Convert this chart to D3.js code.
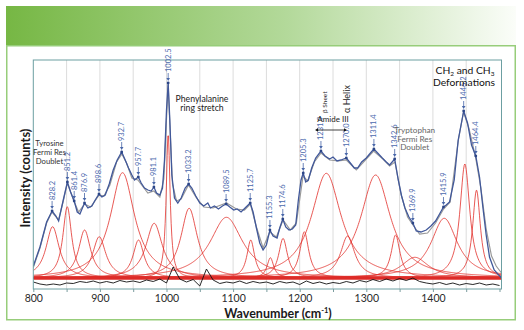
<!DOCTYPE html>
<html>
<head>
<meta charset="utf-8">
<script src="https://cdn.jsdelivr.net/npm/d3@7"></script>
<style>
  body { margin: 0; background: #fff; }
  svg text { font-family: Lato, "Open Sans", sans-serif; }
</style>
</head>
<body>
<svg id="raman_svg" width="524" height="330"></svg>
<script>
// Measured spectrum (wavenumber, intensity)
var measuredWn = [800, 810, 820, 828.2, 834, 838, 845, 851.2, 856, 861.4, 866, 870, 876.9, 882, 888, 893, 898.6,
  903, 908, 914, 920, 926, 932.7, 938, 943, 948, 952, 957.7, 962, 967, 972, 977, 981.1, 985, 990, 994, 997,
  1000, 1002.5, 1005, 1008, 1012, 1017, 1022, 1028, 1033.2, 1038, 1044, 1050, 1056, 1062, 1066, 1072, 1078,
  1084, 1089.5, 1095, 1101, 1106, 1112, 1118, 1125.7, 1130, 1135, 1140, 1145, 1150, 1155.3, 1160, 1166, 1170,
  1174.6, 1179, 1184, 1189, 1194, 1198, 1202, 1205.3, 1209, 1213, 1218, 1224, 1231.9, 1238, 1245, 1250, 1256,
  1262, 1270, 1276, 1282, 1287, 1293, 1300, 1305, 1311.4, 1317, 1324, 1330, 1335, 1342.6, 1348, 1353, 1358,
  1364, 1369.9, 1375, 1382, 1390, 1397, 1404, 1410, 1415.9, 1420, 1425, 1432, 1438, 1446.2, 1452, 1458,
  1464.4, 1470, 1475, 1480, 1485, 1492, 1503];
var measuredInt = [230, 420, 670, 780, 730, 680, 890, 1070, 970, 880, 770, 750, 860, 810, 830, 890, 950,
  920, 940, 1050, 1190, 1290, 1370, 1290, 1210, 1140, 1090, 1120, 1060, 1010, 990, 980, 1020, 960, 940, 1010, 1290,
  1790, 2060, 1690, 1140, 910, 860, 910, 1010, 1050, 1010, 930, 860, 830, 860, 810, 830, 800,
  830, 850, 820, 790, 800, 770, 810, 860, 770, 610, 460, 390, 440, 590, 530, 510, 610,
  700, 620, 590, 600, 640, 890, 1090, 1160, 1070, 1090, 1210, 1310, 1380, 1330, 1300, 1320, 1280,
  1290, 1310, 1260, 1210, 1210, 1270, 1310, 1350, 1400, 1360, 1310, 1270, 1240, 1300, 1090, 930, 810,
  720, 660, 580, 570, 590, 630, 680, 750, 820, 840, 870, 1090, 1490, 1780, 1660, 1440,
  1330, 1120, 820, 540, 320, 190, 110];

// Summed fit
var fitWn = [800, 810, 820, 828, 838, 845, 851, 861, 868, 877, 886, 899, 906, 915, 925, 933, 940, 948, 957,
  965, 972, 981, 990, 996, 1000, 1002.5, 1005, 1009, 1015, 1022, 1033, 1045, 1056, 1070, 1090, 1105, 1117,
  1126, 1135, 1145, 1155, 1165, 1175, 1186, 1195, 1205, 1212, 1222, 1232, 1245, 1258, 1270, 1285, 1300,
  1311, 1325, 1335, 1343, 1352, 1362, 1370, 1380, 1392, 1404, 1416, 1426, 1438, 1446, 1454, 1464, 1472,
  1480, 1488, 1495, 1503];
var fitInt = [215, 410, 660, 770, 690, 880, 1060, 880, 770, 850, 820, 940, 930, 1040, 1270, 1350, 1260, 1110, 1090,
  1020, 960, 980, 920, 1100, 1700, 2040, 1650, 1050, 880, 900, 1040, 910, 820, 810, 860, 800, 790,
  850, 620, 410, 570, 520, 690, 590, 660, 1130, 1080, 1270, 1360, 1290, 1280, 1290, 1190, 1300,
  1380, 1300, 1230, 1270, 950, 720, 640, 550, 560, 660, 800, 870, 1480, 1770, 1610, 1320, 1010,
  600, 330, 230, 160];

// Fit residual, every 10 cm-1 from 800
var residualStart = 800;
var residual = [70, 50, 40, 50, 40, 60, 55, 75, 65, 80, 60, 75, 60, 85, 70, 80, 65, 90, 75, 100,
  60, 220, 100, 70, 95, 30, 200, 90, 55, 70, 60, 80, 55, 75, 60, 70, 50, 75, 60, 70,
  45, 80, 55, 70, 50, 65, 55, 75, 60, 85, 70, 95, 75, 100, 80, 105, 85, 110, 75, 60,
  50, 65, 45, 60, 40, 55, 45, 60, 40, 50, 35];

// Lorentzian components: centre, height, half width
var bandCenter = [829, 851, 877, 899, 934, 958, 981.5, 1002.5, 1034, 1090, 1126.5, 1156, 1175, 1207, 1240,
  1272, 1314, 1344, 1373, 1417, 1448, 1465.5];
var bandHeight = [513, 713, 480, 413, 1053, 380, 547, 1450, 697, 607, 380, 203, 397, 463, 1047,
  420, 1030, 430, 207, 597, 1140, 880];
var bandWidth = [12, 8, 11, 12, 22, 10, 15, 3.5, 15, 30, 7, 6, 8, 8, 27,
  13, 27, 8, 25, 24, 9, 7];
var bandBase = 110;

var peakLabels = ["828.2", "851.2", "861.4", "876.9", "898.6", "932.7", "957.7", "981.1", "1002.5", "1033.2",
  "1089.5", "1125.7", "1155.3", "1174.6", "1205.3", "1231.9", "1270.0", "1311.4", "1342.6", "1369.9",
  "1415.9", "1446.2", "1464.4"];

var xTicks = [800, 850, 900, 950, 1000, 1050, 1100, 1150, 1200, 1250, 1300, 1350, 1400, 1450, 1500];

var svg = d3.select("#raman_svg");
var x = d3.scaleLinear().domain([800, 1503]).range([33.3, 501.5]);
var y = d3.scaleLinear().domain([0, 2290]).range([289, 60]);

// header band and panel
var defs = svg.append("defs");
var grad = defs.append("linearGradient").attr("id", "band_grad");
grad.append("stop").attr("offset", "0%").attr("stop-color", "#76b744");
grad.append("stop").attr("offset", "55%").attr("stop-color", "#b3d99a");
grad.append("stop").attr("offset", "100%").attr("stop-color", "#fbfdf9");
svg.append("rect").attr("x", 6).attr("y", 6).attr("width", 510).attr("height", 40)
  .attr("fill", "url(#band_grad)");
svg.append("rect").attr("x", 6.75).attr("y", 45.75).attr("width", 508.5).attr("height", 274)
  .attr("fill", "#fff").attr("stroke", "#97cd7a").attr("stroke-width", 1.5);

defs.append("clipPath").attr("id", "plot_clip").append("rect")
  .attr("x", x.range()[0]).attr("y", y.range()[1])
  .attr("width", x.range()[1] - x.range()[0]).attr("height", y.range()[0] - y.range()[1]);

// grid
svg.append("g").selectAll("line").data(xTicks.filter(function (d) { return d > 800 && d < 1500; }))
  .enter().append("line")
  .attr("x1", function (d) { return x(d); }).attr("x2", function (d) { return x(d); })
  .attr("y1", y.range()[1]).attr("y2", y.range()[0])
  .attr("stroke", "#dcdcdc").attr("stroke-width", 1);

var plot = svg.append("g").attr("clip-path", "url(#plot_clip)");
var line = d3.line().x(function (d) { return x(d[0]); }).y(function (d) { return y(d[1]); });

// fitted components
var grid = d3.range(800, 1504, 1);
bandCenter.forEach(function (c, i) {
  var g = bandWidth[i], h = bandHeight[i];
  var pts = grid.map(function (w) {
    return [w, bandBase + h * g * g / ((w - c) * (w - c) + g * g)];
  });
  plot.append("path").attr("d", line(pts)).attr("fill", "none")
    .attr("stroke", "#e2312d").attr("stroke-width", 0.9).attr("stroke-opacity", 0.9);
});
plot.append("path").attr("d", line([[800, bandBase], [1503, bandBase]]))
  .attr("stroke", "#dd2b27").attr("stroke-width", 3.6).attr("fill", "none");

// residual
var residualPts = residual.map(function (v, i) { return [residualStart + 10 * i, v]; });
plot.append("path").attr("d", line(residualPts)).attr("fill", "none")
  .attr("stroke", "#111").attr("stroke-width", 0.9);

// fit sum and measured spectrum
plot.append("path").attr("d", line(fitWn.map(function (w, i) { return [w, fitInt[i]]; })))
  .attr("fill", "none").attr("stroke", "#9a9a9a").attr("stroke-width", 1.2);
var measured = measuredWn.map(function (w, i) { return [w, measuredInt[i]]; });
plot.append("path").attr("d", line(measured))
  .attr("fill", "none").attr("stroke", "#41589a").attr("stroke-width", 1.3);

// frame and x axis
svg.append("rect").attr("x", x.range()[0]).attr("y", y.range()[1])
  .attr("width", x.range()[1] - x.range()[0]).attr("height", y.range()[0] - y.range()[1])
  .attr("fill", "none").attr("stroke", "#6c9fa2").attr("stroke-width", 1);

var xAxis = svg.append("g").attr("transform", "translate(0," + y.range()[0] + ")")
  .call(d3.axisBottom(x).tickValues(xTicks).tickSize(3).tickPadding(3)
    .tickFormat(function (d) { return (d % 100 === 0 && d < 1500) ? d : ""; }));
xAxis.select(".domain").remove();
xAxis.selectAll("line").attr("stroke", "#7a9c9e");
xAxis.selectAll("text").attr("font-size", "10.5px").attr("fill", "#2a2a2a")
  .style("font-family", "Lato, sans-serif");

var xTitle = svg.append("text").attr("x", 278).attr("y", 317.5).attr("text-anchor", "middle")
  .attr("font-size", "12.5px").attr("font-weight", "bold").attr("fill", "#1a1a1a");
xTitle.append("tspan").text("Wavenumber (cm");
xTitle.append("tspan").attr("font-size", "7.5px").attr("dy", -5).text("-1");
xTitle.append("tspan").attr("dy", 5).text(")");

svg.append("text").attr("transform", "translate(25,178) rotate(-90)").attr("text-anchor", "middle")
  .attr("dominant-baseline", "central")
  .attr("font-size", "13px").attr("font-weight", "bold").attr("fill", "#1a1a1a")
  .text("Intensity (counts)");

// peak labels
var bis = d3.bisector(function (d) { return d[0]; }).left;
function measuredAt(w) {
  var i = bis(measured, w);
  if (i <= 0) return measured[0][1];
  var a = measured[i - 1], b = measured[i];
  return a[1] + (b[1] - a[1]) * (w - a[0]) / (b[0] - a[0]);
}
var labels = svg.append("g");
peakLabels.forEach(function (s) {
  var w = +s, px = x(w), py = y(measuredAt(w));
  labels.append("circle").attr("cx", px).attr("cy", py).attr("r", 1.4).attr("fill", "#2b4587");
  labels.append("line").attr("x1", px).attr("x2", px).attr("y1", py - 10).attr("y2", py - 4)
    .attr("stroke", "#4866a8").attr("stroke-width", 0.8);
  labels.append("path")
    .attr("d", "M" + (px - 1.8) + "," + (py - 5) + "L" + (px + 1.8) + "," + (py - 5) + "L" + px + "," + (py - 2) + "Z")
    .attr("fill", "#4866a8");
  labels.append("text").attr("transform", "translate(" + px + "," + (py - 11) + ") rotate(-90)")
    .attr("dominant-baseline", "central").attr("font-size", "7.5px").attr("fill", "#4a68ad")
    .text(s);
});

// band assignments, one text element per block
function block(lines, cx, y0, dy, size, color) {
  var t = svg.append("text").attr("x", cx).attr("y", y0).attr("text-anchor", "middle")
    .attr("font-size", size).attr("fill", color);
  lines.forEach(function (s, i) {
    t.append("tspan").attr("x", cx).attr("dy", i === 0 ? 0 : dy).text(s);
  });
  return t;
}
block(["Tyrosine", "Fermi Res", "Doublet"], 49.5, 145.5, 9, "7.7px", "#333");
block(["Phenylalanine", "ring stretch"], 202, 101.5, 9.8, "8.7px", "#222");
block(["Tryptophan", "Fermi Res", "Doublet"], 414.7, 133, 8.6, "8.2px", "#666");

var ch = svg.append("text").attr("x", 465).attr("y", 74).attr("text-anchor", "middle")
  .attr("font-size", "10.3px").attr("fill", "#111");
ch.append("tspan").text("CH");
ch.append("tspan").attr("font-size", "6.5px").attr("dy", 2).text("2");
ch.append("tspan").attr("dy", -2).text(" and CH");
ch.append("tspan").attr("font-size", "6.5px").attr("dy", 2).text("3");
svg.append("text").attr("x", 464).attr("y", 86).attr("text-anchor", "middle")
  .attr("font-size", "10.3px").attr("fill", "#111").text("Deformations");

// amide III range
svg.append("text").attr("transform", "translate(324,113) rotate(-90)").attr("dominant-baseline", "central")
  .attr("font-size", "6.5px").attr("fill", "#222").text("β Sheet");
svg.append("text").attr("transform", "translate(346.7,113) rotate(-90)").attr("dominant-baseline", "central")
  .attr("font-size", "9px").attr("fill", "#222").text("α Helix");
block(["Amide III"], 333, 122.3, 0, "8px", "#222");
var ay = 130, ax0 = x(1223), ax1 = x(1271);
svg.append("line").attr("x1", ax0 + 2).attr("x2", ax1 - 2).attr("y1", ay).attr("y2", ay)
  .attr("stroke", "#111").attr("stroke-width", 0.8);
svg.append("path").attr("d", "M" + ax0 + "," + ay + "l3,-1.8l0,3.6Z M" + ax1 + "," + ay + "l-3,-1.8l0,3.6Z")
  .attr("fill", "#111");
</script>
</body>
</html>
